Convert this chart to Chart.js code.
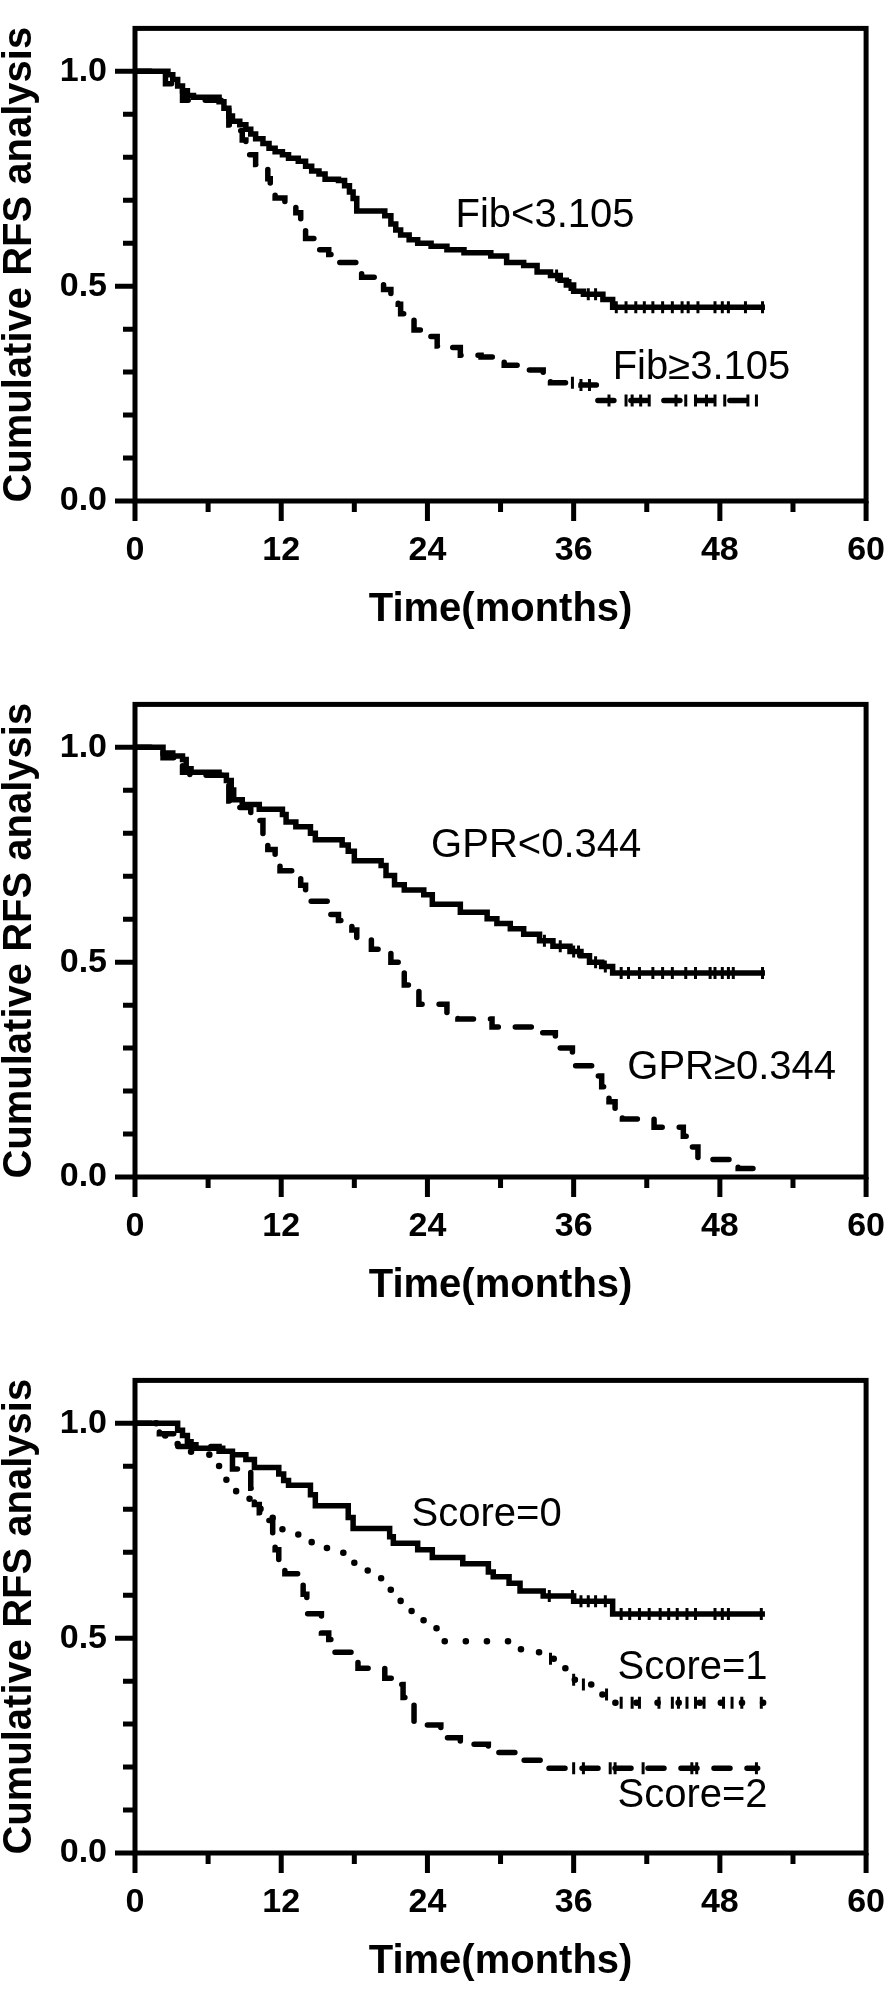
<!DOCTYPE html>
<html>
<head>
<meta charset="utf-8">
<title>Cumulative RFS analysis</title>
<script src="https://cdn.jsdelivr.net/npm/chart.js@4"></script>
<style>
	html, body { margin: 0; padding: 0; background: #fff; }
	#page { position: relative; width: 894px; height: 1990px; overflow: hidden; }
	#page canvas { position: absolute; left: 0; }
</style>
</head>
<body>
<div id="page">
	<canvas id="fibChart" width="894" height="676" style="top:0"></canvas>
	<canvas id="gprChart" width="894" height="676" style="top:676px"></canvas>
	<canvas id="scoreChart" width="894" height="638" style="top:1352px"></canvas>
</div>
<script>
// Axis tick labels
const xTickLabels = [ 0, 12, 24, 36, 48, 60 ];
const yTickLabels = [ '0.0', '0.5', '1.0' ];

// Fib<3.105 (solid)
const fibLowTime = [
	0, 2.7, 3.1, 3.5, 3.9, 4.3, 4.8, 6.9, 7.3, 7.7,
	8.0, 8.6, 9.1, 9.5, 9.9, 10.5, 11.0, 11.5, 12.1, 12.6,
	13.4, 14.0, 14.5, 15.1, 15.6, 16.7, 17.2, 17.6, 17.9, 18.2,
	20.5, 21.0, 21.4, 21.8, 22.5, 23.2, 24.3, 25.6, 27.0, 29.2,
	30.5, 31.9, 33.0, 34.1, 34.9, 35.4, 36.0, 36.8, 38.4, 39.2,
	51.7,
];
const fibLowSurv = [
	1, 0.992, 0.981, 0.966, 0.955, 0.944, 0.94, 0.929, 0.914, 0.896,
	0.884, 0.876, 0.865, 0.854, 0.843, 0.832, 0.821, 0.813, 0.806, 0.798,
	0.791, 0.779, 0.768, 0.761, 0.749, 0.746, 0.734, 0.719, 0.704, 0.675,
	0.664, 0.645, 0.631, 0.619, 0.608, 0.6, 0.593, 0.585, 0.578, 0.57,
	0.555, 0.548, 0.533, 0.525, 0.514, 0.503, 0.488, 0.481, 0.469, 0.451,
	0.451,
];
const fibLowCensor = [ 34.6, 35.7, 37.2, 37.8, 39.5, 40.3, 41.1, 41.8, 42.5, 43.3, 44.1, 44.9, 45.4, 46.2, 47.6, 48.2, 48.7, 50.1, 51.5 ];

// Fib≥3.105 (dashed)
const fibHighTime = [
	0, 2.5, 3.9, 7.7, 8.0, 8.8, 9.1, 9.4, 9.9, 10.5,
	10.9, 11.1, 11.5, 12.3, 13.2, 13.6, 14.0, 15.1, 15.9, 16.7,
	18.6, 19.7, 20.4, 21.0, 21.6, 21.8, 22.4, 22.9, 24.0, 24.8,
	25.9, 26.7, 28.4, 29.4, 30.3, 31.5, 33.5, 34.1, 36.6, 37.9,
	51.1,
];
const fibHighSurv = [
	1, 0.971, 0.933, 0.875, 0.862, 0.84, 0.821, 0.806, 0.783, 0.772,
	0.75, 0.727, 0.705, 0.686, 0.671, 0.638, 0.611, 0.585, 0.574, 0.555,
	0.521, 0.514, 0.492, 0.481, 0.458, 0.436, 0.421, 0.398, 0.383, 0.361,
	0.357, 0.339, 0.335, 0.326, 0.316, 0.305, 0.286, 0.275, 0.27, 0.234,
	0.234,
];
const fibHighCensor = [ 35.9, 36.6, 37.3, 38.9, 40.3, 40.8, 41.5, 42.2, 44.4, 45.2, 46.0, 46.9, 47.6, 48.4, 50.3, 51.0 ];

// GPR<0.344 (solid)
const gprLowTime = [
	0, 2.3, 3.1, 3.9, 4.2, 4.6, 6.9, 7.5, 7.9, 8.1,
	8.8, 10.2, 12.1, 12.4, 13.2, 14.4, 14.8, 17.0, 17.5, 18.0,
	20.2, 20.6, 21.3, 22.1, 23.7, 24.4, 26.7, 28.9, 29.7, 30.8,
	31.9, 33.2, 34.3, 35.7, 36.6, 37.3, 38.3, 39.2, 51.7,
];
const gprLowSurv = [
	1, 0.987, 0.98, 0.972, 0.95, 0.942, 0.935, 0.923, 0.901, 0.878,
	0.867, 0.856, 0.844, 0.826, 0.815, 0.8, 0.785, 0.773, 0.758, 0.736,
	0.725, 0.702, 0.68, 0.668, 0.657, 0.635, 0.616, 0.601, 0.59, 0.578,
	0.565, 0.55, 0.537, 0.525, 0.515, 0.5, 0.49, 0.475, 0.475,
];
const gprLowCensor = [ 33.6, 34.9, 36.0, 36.4, 37.8, 38.6, 39.9, 40.5, 41.4, 42.5, 43.3, 44.1, 45.2, 46.0, 47.2, 47.6, 48.2, 48.7, 49.1, 51.5 ];

// GPR≥0.344 (dashed)
const gprHighTime = [
	0, 2.3, 3.9, 4.5, 7.2, 7.7, 8.1, 9.5, 10.5, 10.9,
	11.5, 11.9, 13.0, 13.6, 14.0, 16.0, 16.7, 17.8, 18.2, 19.4,
	20.2, 21.0, 21.6, 22.1, 22.7, 23.3, 25.6, 26.5, 29.3, 33.0,
	34.5, 35.9, 37.9, 38.3, 38.9, 39.4, 40.0, 42.6, 45.0, 45.6,
	46.2, 48.9, 49.5, 51.1,
];
const gprHighSurv = [
	1, 0.976, 0.942, 0.935, 0.916, 0.875, 0.86, 0.83, 0.788, 0.762,
	0.732, 0.713, 0.698, 0.679, 0.642, 0.611, 0.597, 0.575, 0.552, 0.53,
	0.522, 0.5, 0.477, 0.447, 0.439, 0.402, 0.383, 0.368, 0.349, 0.336,
	0.3, 0.259, 0.235, 0.21, 0.175, 0.15, 0.135, 0.116, 0.095, 0.07,
	0.041, 0.03, 0.02, 0,
];
const gprHighCensor = [];

// Score=0 (solid)
const score0Time = [
	0, 3.5, 3.9, 4.3, 4.6, 5.0, 7.2, 8.0, 9.1, 9.8,
	11.8, 12.2, 12.6, 14.4, 14.8, 17.5, 17.9, 20.9, 21.2, 23.2,
	24.4, 26.9, 29.0, 29.4, 30.7, 31.6, 33.5, 36.0, 39.2, 51.7,
];
const score0Surv = [
	1, 0.984, 0.972, 0.957, 0.95, 0.942, 0.935, 0.927, 0.916, 0.897,
	0.882, 0.867, 0.856, 0.834, 0.808, 0.781, 0.755, 0.736, 0.721, 0.706,
	0.688, 0.673, 0.654, 0.643, 0.628, 0.61, 0.598, 0.586, 0.556, 0.556,
];
const score0Censor = [ 34.0, 35.9, 36.6, 37.2, 37.8, 38.6, 39.9, 40.6, 41.4, 42.2, 43.1, 43.8, 44.5, 45.3, 46.0, 47.6, 48.2, 48.7, 51.4 ];

// Score=1 (dotted)
const score1Time = [
	0, 2.0, 3.5, 4.6, 6.1, 6.9, 7.5, 8.3, 9.4, 10.3,
	11.3, 12.1, 13.4, 14.5, 15.9, 17.2, 18.0, 19.1, 20.2, 21.2,
	21.8, 22.7, 24.0, 25.1, 31.2, 32.7, 33.8, 34.9, 35.5, 36.8,
	37.9, 39.2, 51.7,
];
const score1Surv = [
	1, 0.972, 0.95, 0.931, 0.924, 0.897, 0.864, 0.834, 0.811, 0.785,
	0.763, 0.744, 0.729, 0.71, 0.699, 0.684, 0.658, 0.64, 0.613, 0.594,
	0.564, 0.542, 0.523, 0.493, 0.474, 0.467, 0.452, 0.43, 0.403, 0.392,
	0.369, 0.35, 0.35,
];
const score1Censor = [ 34.1, 36.0, 36.8, 38.7, 39.9, 40.8, 41.4, 43.0, 44.1, 44.6, 45.3, 46.0, 46.7, 48.3, 49.0, 49.8, 51.4 ];

// Score=2 (dashed)
const score2Time = [
	0, 2.0, 3.4, 6.9, 8.0, 9.5, 9.8, 10.2, 10.7, 11.3,
	11.5, 11.8, 12.3, 13.4, 13.8, 14.1, 15.3, 15.9, 16.4, 18.3,
	20.5, 21.2, 22.0, 22.4, 22.9, 25.1, 25.5, 26.7, 29.0, 31.3,
	33.5, 51.1,
];
const score2Surv = [
	1, 0.976, 0.946, 0.935, 0.894, 0.849, 0.811, 0.792, 0.774, 0.729,
	0.706, 0.669, 0.65, 0.624, 0.602, 0.557, 0.512, 0.497, 0.467, 0.43,
	0.407, 0.392, 0.362, 0.347, 0.298, 0.287, 0.268, 0.253, 0.234, 0.216,
	0.197, 0.197,
];
const score2Censor = [ 36.0, 36.8, 39.0, 39.4, 41.7, 45.7, 46.1, 51.0 ];

// Set default Chart.js options
Chart.defaults.font.family = '"Liberation Sans", Arial, Helvetica, sans-serif';
Chart.defaults.color = '#000';

const SOLID = [];
const DASHED = [ 16, 17 ];
const DOTTED = [ 0.1, 21 ];

function kmPoints( time, surv ) {
	return time.map( ( t, i ) => ( { x: t, y: surv[ i ] } ) );
}

// Censored patients sit on the step curve at their time
function censorPoints( time, surv, censor ) {
	return censor.map( ( c ) => {
		let s = surv[ 0 ];
		time.forEach( ( t, i ) => {
			if ( t <= c ) {
				s = surv[ i ];
			}
		} );
		return { x: c, y: s };
	} );
}

function curve( label, time, surv, dash ) {
	return {
		label,
		data: kmPoints( time, surv ),
		stepped: true,
		borderColor: '#000',
		borderWidth: dash === DOTTED ? 6.5 : 5.5,
		borderDash: dash,
		borderCapStyle: dash.length ? 'round' : 'butt',
		borderJoinStyle: 'miter',
		pointRadius: 0,
		fill: false,
	};
}

function censorSet( label, time, surv, censor ) {
	return {
		label: label + ' censored',
		data: censorPoints( time, surv, censor ),
		showLine: false,
		pointStyle: 'line',
		pointRotation: 90,
		pointRadius: 6,
		pointBorderWidth: 3,
		pointBorderColor: '#000',
		pointBackgroundColor: '#000',
	};
}

// Box frame with outward major / minor ticks
const axisFrame = {
	id: 'axisFrame',
	afterDatasetsDraw( chart ) {
		const { ctx, chartArea: area, scales } = chart;
		ctx.save();
		ctx.strokeStyle = '#000';
		ctx.lineWidth = 5;
		ctx.lineCap = 'butt';
		ctx.strokeRect( area.left, area.top, area.right - area.left, area.bottom - area.top );
		ctx.beginPath();
		scales.x.ticks.forEach( ( tick ) => {
			const px = scales.x.getPixelForValue( tick.value );
			const len = xTickLabels.includes( tick.value ) ? 20 : 11;
			ctx.moveTo( px, area.bottom );
			ctx.lineTo( px, area.bottom + len );
		} );
		scales.y.ticks.forEach( ( tick ) => {
			const k = Math.round( tick.value * 10 );
			if ( k > 10 ) {
				return;
			}
			const py = scales.y.getPixelForValue( tick.value );
			const len = k % 5 === 0 ? 20 : 12;
			ctx.moveTo( area.left, py );
			ctx.lineTo( area.left - len, py );
		} );
		ctx.stroke();
		ctx.restore();
	},
};

// Group names written next to the curves
const curveLabels = {
	id: 'curveLabels',
	afterDraw( chart, args, opts ) {
		const { ctx, scales } = chart;
		ctx.save();
		ctx.font = '40px "Liberation Sans", Arial, sans-serif';
		ctx.fillStyle = '#000';
		ctx.textAlign = 'left';
		ctx.textBaseline = 'alphabetic';
		( opts.items || [] ).forEach( ( item ) => {
			ctx.fillText(
				item.text,
				scales.x.getPixelForValue( item.x ),
				scales.y.getPixelForValue( item.y )
			);
		} );
		ctx.restore();
	},
};

function buildChart( id, datasets, labels ) {
	const canvas = document.getElementById( id );
	return new Chart( canvas, {
		type: 'line',
		data: { datasets },
		plugins: [ axisFrame, curveLabels ],
		options: {
			responsive: false,
			animation: false,
			events: [],
			layout: {
				padding: { left: 0, right: 22, top: 11, bottom: canvas.height - 630 },
			},
			plugins: {
				legend: { display: false },
				tooltip: { enabled: false },
				curveLabels: { items: labels },
			},
			scales: {
				x: {
					type: 'linear',
					min: 0,
					max: 60,
					afterFit: ( scale ) => {
						scale.height = 129;
					},
					grid: { display: false, drawTicks: true, tickLength: 20 },
					border: { display: false },
					ticks: {
						stepSize: 6,
						autoSkip: false,
						maxRotation: 0,
						padding: 9,
						color: '#000',
						font: { size: 34, weight: 'bold', lineHeight: 1.2 },
						callback: ( v ) => ( xTickLabels.includes( v ) ? String( v ) : '' ),
					},
					title: {
						display: true,
						text: 'Time(months)',
						color: '#000',
						padding: 0,
						font: { size: 40, weight: 'bold', lineHeight: 1 },
					},
				},
				y: {
					min: 0,
					max: 1.1,
					afterFit: ( scale ) => {
						scale.width = 135;
					},
					grid: { display: false, drawTicks: true, tickLength: 20 },
					border: { display: false },
					ticks: {
						stepSize: 0.1,
						autoSkip: false,
						padding: 8,
						color: '#000',
						font: { size: 34, weight: 'bold', lineHeight: 1.2 },
						callback: ( v ) => {
							const k = Math.round( v * 10 );
							return k % 5 === 0 && k <= 10 ? yTickLabels[ k / 5 ] : '';
						},
					},
					title: {
						display: true,
						text: 'Cumulative RFS analysis',
						color: '#000',
						padding: 0,
						font: { size: 40, weight: 'bold', lineHeight: 1 },
					},
				},
			},
		},
	} );
}

// Fibrinogen panel
buildChart(
	'fibChart',
	[
		curve( 'Fib<3.105', fibLowTime, fibLowSurv, SOLID ),
		censorSet( 'Fib<3.105', fibLowTime, fibLowSurv, fibLowCensor ),
		curve( 'Fib≥3.105', fibHighTime, fibHighSurv, DASHED ),
		censorSet( 'Fib≥3.105', fibHighTime, fibHighSurv, fibHighCensor ),
	],
	[
		{ text: 'Fib<3.105', x: 26.3, y: 0.637 },
		{ text: 'Fib≥3.105', x: 39.2, y: 0.283 },
	]
);

// GPR panel
buildChart(
	'gprChart',
	[
		curve( 'GPR<0.344', gprLowTime, gprLowSurv, SOLID ),
		censorSet( 'GPR<0.344', gprLowTime, gprLowSurv, gprLowCensor ),
		curve( 'GPR≥0.344', gprHighTime, gprHighSurv, DASHED ),
		censorSet( 'GPR≥0.344', gprHighTime, gprHighSurv, gprHighCensor ),
	],
	[
		{ text: 'GPR<0.344', x: 24.3, y: 0.744 },
		{ text: 'GPR≥0.344', x: 40.4, y: 0.229 },
	]
);

// Combined score panel
buildChart(
	'scoreChart',
	[
		curve( 'Score=0', score0Time, score0Surv, SOLID ),
		censorSet( 'Score=0', score0Time, score0Surv, score0Censor ),
		curve( 'Score=1', score1Time, score1Surv, DOTTED ),
		censorSet( 'Score=1', score1Time, score1Surv, score1Censor ),
		curve( 'Score=2', score2Time, score2Surv, DASHED ),
		censorSet( 'Score=2', score2Time, score2Surv, score2Censor ),
	],
	[
		{ text: 'Score=0', x: 22.7, y: 0.76 },
		{ text: 'Score=1', x: 39.6, y: 0.404 },
		{ text: 'Score=2', x: 39.6, y: 0.108 },
	]
);
</script>
</body>
</html>
